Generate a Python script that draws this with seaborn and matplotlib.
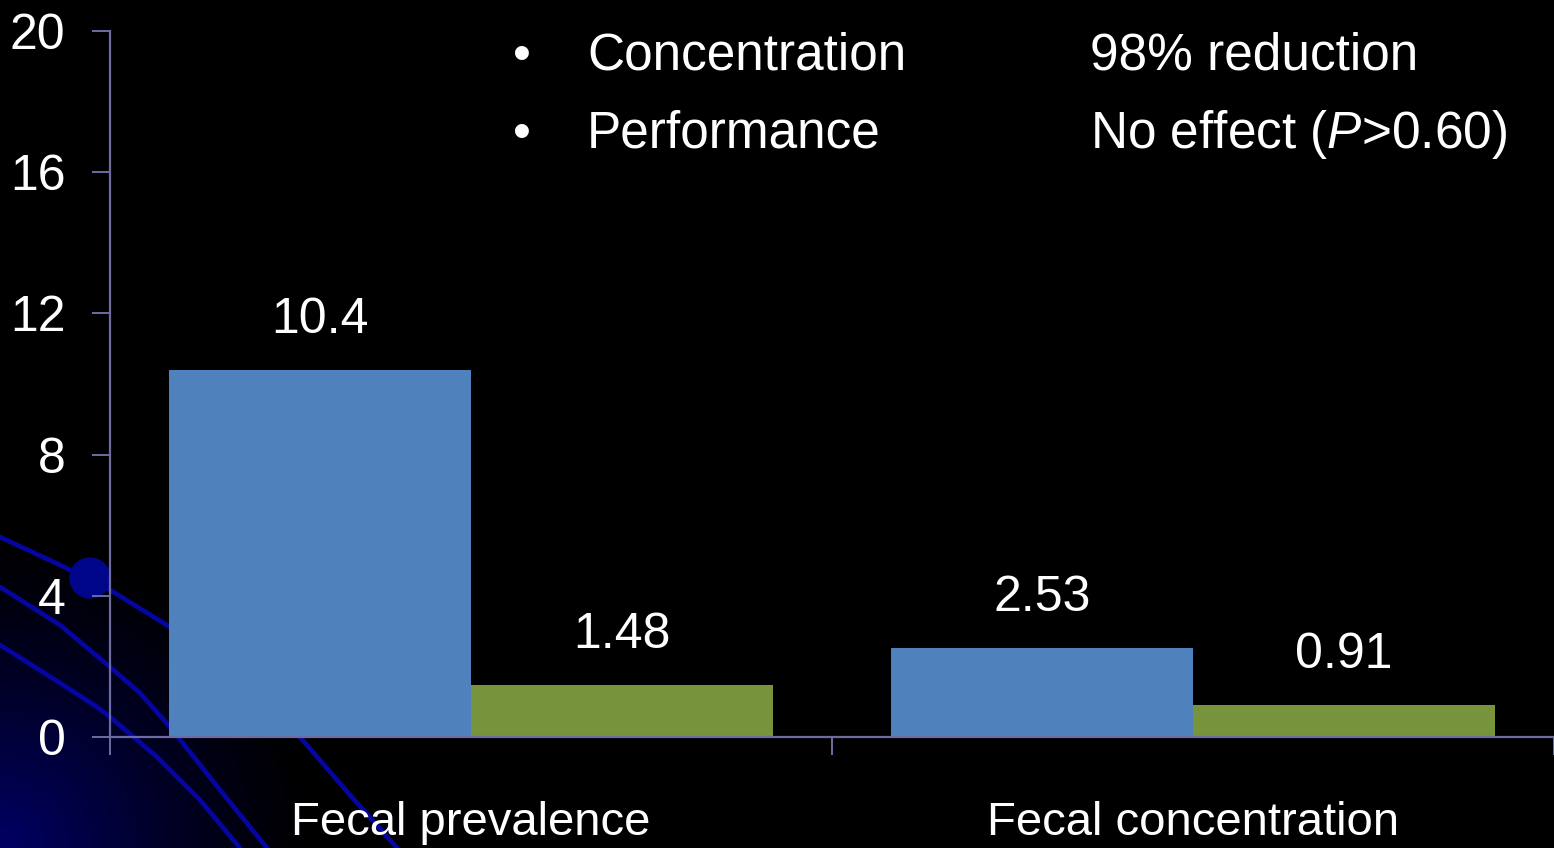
import numpy as np
import pandas as pd
import matplotlib
matplotlib.use("Agg")
import matplotlib.pyplot as plt
import seaborn as sns

# ---- data ----
categories = ["Fecal prevalence", "Fecal concentration"]
groups = ["Control", "Treated"]
control_values = [10.4, 2.53]
treated_values = [1.48, 0.91]
value_labels_control = ["10.4", "2.53"]
value_labels_treated = ["1.48", "0.91"]
yticks = [0, 4, 8, 12, 16, 20]
bullet_items = ["Concentration", "Performance"]
bullet_results = ["98% reduction", r"No effect ($\it{P}$>0.60)"]

BLUE = "#4F81BD"
GREEN = "#77933C"
SPINE = "#6C6CA0"
FONT = "Liberation Sans"

sns.set_style("dark")
plt.rcParams["font.family"] = [FONT, "DejaVu Sans"]
plt.rcParams["mathtext.fontset"] = "custom"
plt.rcParams["mathtext.rm"] = FONT
plt.rcParams["mathtext.it"] = FONT + ":italic"

df = pd.DataFrame({
    "category": categories * 2,
    "group": [groups[0]] * 2 + [groups[1]] * 2,
    "value": control_values + treated_values,
})

W, H = 1554, 848
fig = plt.figure(figsize=(W / 100, H / 100), dpi=100, facecolor="black")

# background decoration (slide template)
bg = fig.add_axes([0, 0, 1, 1], zorder=0)
bg.set_xlim(0, W)
bg.set_ylim(H, 0)
bg.axis("off")
yy, xx = np.mgrid[0:H:2, 0:W:2]
d = np.sqrt((xx - 0) ** 2 + (yy - H) ** 2)
inten = np.clip(1 - d / 320, 0, 1) ** 1.3
img = np.zeros(xx.shape + (3,))
img[..., 2] = 0.40 * inten
bg.imshow(img, extent=[0, W, H, 0], aspect="auto", zorder=0)
curve_col = "#0505A0"
curves = [
    [(0, 537), (60, 565), (110, 590), (170, 627), (235, 675), (300, 737), (350, 795), (397, 848)],
    [(0, 587), (60, 625), (110, 667), (140, 693), (170, 727), (220, 790), (267, 848)],
    [(0, 645), (60, 683), (97, 707), (110, 717), (157, 757), (200, 800), (240, 848)],
]
for c in curves:
    xs, ys = zip(*c)
    bg.plot(xs, ys, color=curve_col, lw=3.4, zorder=1, solid_capstyle="round")
bg.add_patch(plt.Circle((90, 578), 20, color="#00068A", zorder=2))

# main axes
ax = fig.add_axes([110 / W, 111 / H, 1444 / W, 706 / H], zorder=1)
ax.set_facecolor("none")
sns.barplot(data=df, x="category", y="value", hue="group", order=categories,
            hue_order=groups, palette=[BLUE, GREEN], width=0.836, saturation=1,
            linewidth=0, legend=False, ax=ax)

for cont, labs in zip(ax.containers, [value_labels_control, value_labels_treated]):
    ax.bar_label(cont, labels=labs, padding=19, fontsize=36, color="white")

ax.set_xlim(-0.5, 1.5)
ax.set_ylim(0, 20)
ax.set_xlabel("")
ax.set_ylabel("")
ax.grid(False)
for s in ["top", "right"]:
    ax.spines[s].set_visible(False)
for s in ["left", "bottom"]:
    ax.spines[s].set_color(SPINE)
    ax.spines[s].set_linewidth(1.6)

ax.set_yticks(yticks)
ax.set_yticklabels([str(t) for t in yticks])
ax.tick_params(axis="y", length=13, width=1.4, color=SPINE, pad=19,
               labelsize=36, labelcolor="white", left=True)
ax.set_xticks([-0.5, 0.5, 1.5])
ax.set_xticklabels(["", "", ""])
ax.set_xticks([0, 1], minor=True)
ax.set_xticklabels(categories, minor=True)
ax.tick_params(axis="x", which="major", length=13, width=1.4, color=SPINE, bottom=True)
ax.tick_params(axis="x", which="minor", length=0, pad=46, labelsize=34, labelcolor="white")

# top annotation text
fs = 37
row_base = [70, 148]
for i, (item, res) in enumerate(zip(bullet_items, bullet_results)):
    yb = 1 - row_base[i] / H
    fig.text(522 / W, yb, "\u2022", ha="center", va="baseline", fontsize=fs, color="white")
    fig.text(587 / W, yb, item, ha="left", va="baseline", fontsize=fs, color="white")
    fig.text(1090 / W, yb, res, ha="left", va="baseline", fontsize=fs, color="white")

# clipped title fragment above the figure
fig.text(1057 / W, 1 + 12 / H, "y (%)", ha="right", va="baseline", fontsize=fs, color="white")

fig.savefig("out.png", dpi=100, facecolor="black")
